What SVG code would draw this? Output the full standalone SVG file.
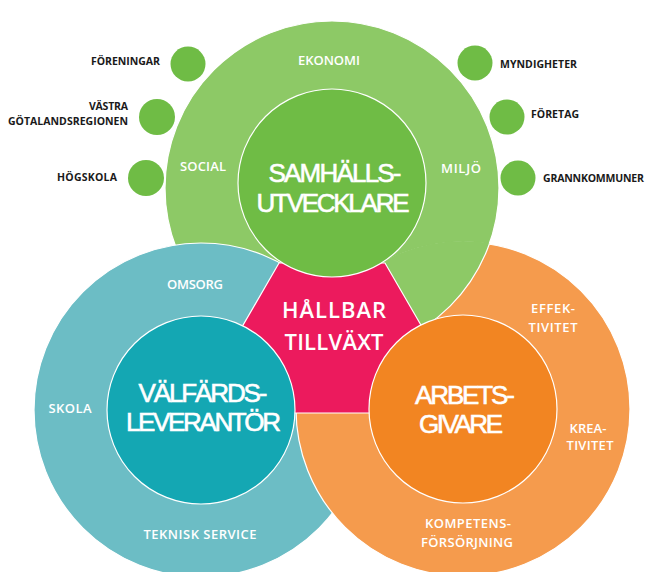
<svg xmlns="http://www.w3.org/2000/svg" width="645" height="572" viewBox="0 0 645 572">
<style>
.lbl{font-family:"Open Sans","Noto Sans","DejaVu Sans",sans-serif;font-weight:700;font-size:10.5px;fill:#1a1a1a}
.w{font-family:"Open Sans","Noto Sans","DejaVu Sans",sans-serif;font-weight:600;font-size:13px;fill:#ffffff;text-anchor:middle}
.big{font-family:"Liberation Sans","Arial",sans-serif;font-weight:400;font-size:26px;fill:#ffffff;stroke:#ffffff;stroke-width:0.6;text-anchor:middle}
.mid{font-family:"Open Sans","Noto Sans","DejaVu Sans",sans-serif;font-weight:600;font-size:22px;fill:#ffffff;text-anchor:middle}
.dot{fill:#6fbc45}
.ring{stroke:#ffffff;stroke-width:1.2}
.core{stroke:#ffffff;stroke-width:1.2}
</style>
<defs>
<clipPath id="clipOrange"><circle cx="463" cy="409" r="168"/></clipPath>
</defs>
<rect width="645" height="572" fill="#ffffff"/>

<g id="satellites">
<g id="foreningar"><circle class="dot" cx="188" cy="64" r="17.5"/><text class="lbl" x="160" y="65" text-anchor="end" textLength="69">FÖRENINGAR</text></g>
<g id="vastra"><circle class="dot" cx="157" cy="117" r="18"/><text class="lbl" x="128" y="110" text-anchor="end" textLength="39">VÄSTRA</text><text class="lbl" x="128" y="125" text-anchor="end" textLength="120">GÖTALANDSREGIONEN</text></g>
<g id="hogskola"><circle class="dot" cx="146" cy="178" r="18"/><text class="lbl" x="117" y="181" text-anchor="end" textLength="60">HÖGSKOLA</text></g>
<g id="myndigheter"><circle class="dot" cx="475" cy="63" r="17.5"/><text class="lbl" x="500" y="68" textLength="77">MYNDIGHETER</text></g>
<g id="foretag"><circle class="dot" cx="507" cy="117" r="17.5"/><text class="lbl" x="531" y="118" textLength="48">FÖRETAG</text></g>
<g id="grannkommuner"><circle class="dot" cx="518" cy="178" r="17.5"/><text class="lbl" x="543" y="182" textLength="101">GRANNKOMMUNER</text></g>
</g>

<g id="rings">
<circle id="greenRing" class="ring" cx="332" cy="188" r="167" fill="#8dc966"/>
<circle id="tealRing" class="ring" cx="201" cy="410" r="167" fill="#6cbdc5"/>
<circle id="orangeRing" class="ring" cx="463" cy="409" r="167" fill="#f59b4d"/>
<g clip-path="url(#clipOrange)"><circle class="ring" cx="332" cy="188" r="167" fill="#8dc966"/></g>
</g>

<g id="hallbar">
<polygon points="279,263 385,263 440,358 405,413 259,413 224,358" fill="#ec1a5d" stroke="#ffffff" stroke-width="1.2"/>
<text class="mid" x="334" y="318" textLength="104">HÅLLBAR</text>
<text class="mid" x="334" y="350" textLength="99">TILLVÄXT</text>
</g>

<g id="samhallsutvecklare">
<circle class="core" cx="332" cy="183" r="94" fill="#6fbc45"/>
<text class="big" x="335" y="182" textLength="133">SAMHÄLLS-</text>
<text class="big" x="333" y="212" textLength="153">UTVECKLARE</text>
<text class="w" x="329" y="65" textLength="62">EKONOMI</text>
<text class="w" x="203" y="171" textLength="46">SOCIAL</text>
<text class="w" x="461" y="173" textLength="40">MILJÖ</text>
</g>

<g id="valfardsleverantor">
<circle class="core" cx="201" cy="410" r="94" fill="#14a7b3"/>
<text class="big" x="203" y="402" textLength="129">VÄLFÄRDS-</text>
<text class="big" x="203.5" y="431" textLength="155">LEVERANTÖR</text>
<text class="w" x="195" y="289" textLength="56">OMSORG</text>
<text class="w" x="70" y="413" textLength="43">SKOLA</text>
<text class="w" x="200" y="539" textLength="113">TEKNISK SERVICE</text>
</g>

<g id="arbetsgivare">
<circle class="core" cx="463" cy="409" r="94" fill="#f28522"/>
<text class="big" x="465" y="404" textLength="100">ARBETS-</text>
<text class="big" x="461" y="433" textLength="84">GIVARE</text>
<text class="w" x="553" y="313" textLength="44">EFFEK-</text>
<text class="w" x="553" y="332" textLength="49">TIVITET</text>
<text class="w" x="588" y="433" textLength="37">KREA-</text>
<text class="w" x="590" y="450" textLength="47">TIVITET</text>
<text class="w" x="468" y="528" textLength="86">KOMPETENS-</text>
<text class="w" x="467" y="547" textLength="92">FÖRSÖRJNING</text>
</g>
</svg>
